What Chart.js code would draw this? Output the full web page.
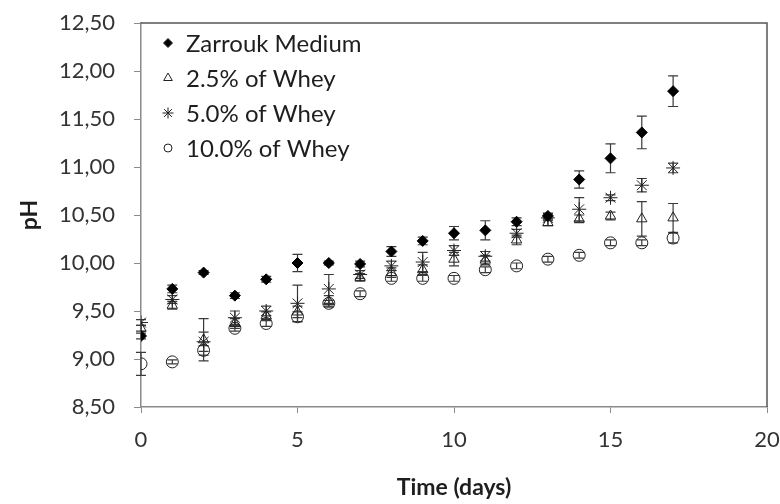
<!DOCTYPE html>
<html>
<head>
<meta charset="utf-8">
<script src="https://cdn.jsdelivr.net/npm/chart.js@4.4.0/dist/chart.umd.min.js"></script>
<style>
  body { margin: 0; background: #fff; }
</style>
</head>
<body>
<canvas id="myChart" width="780" height="504"></canvas>
<script>
var days = [0, 1, 2, 3, 4, 5, 6, 7, 8, 9, 10, 11, 12, 13, 14, 15, 16, 17];

var zarrouk    = [9.24, 9.73, 9.90, 9.66, 9.83, 10.00, 10.00, 9.99, 10.12, 10.23, 10.31, 10.34, 10.43, 10.49, 10.87, 11.09, 11.36, 11.79];
var zarroukErr = [0.03, 0.04, 0.02, 0.03, 0.03, 0.09, 0.02, 0.03, 0.05, 0.04, 0.07, 0.10, 0.04, 0.03, 0.09, 0.15, 0.17, 0.16];

var whey25    = [9.32, 9.56, 9.20, 9.37, 9.45, 9.49, 9.60, 9.85, 9.90, 9.93, 10.04, 10.03, 10.24, 10.42, 10.46, 10.49, 10.46, 10.47];
var whey25Err = [0.03, 0.04, 0.22, 0.05, 0.04, 0.06, 0.06, 0.04, 0.05, 0.05, 0.07, 0.05, 0.05, 0.03, 0.04, 0.04, 0.18, 0.15];

var whey50    = [9.38, 9.62, 9.18, 9.43, 9.50, 9.58, 9.73, 9.88, 9.97, 10.01, 10.13, 10.07, 10.31, 10.47, 10.56, 10.68, 10.81, 10.99];
var whey50Err = [0.03, 0.04, 0.10, 0.07, 0.05, 0.19, 0.15, 0.04, 0.05, 0.10, 0.05, 0.05, 0.04, 0.03, 0.12, 0.03, 0.07, 0.05];

var whey100    = [8.95, 8.97, 9.09, 9.32, 9.37, 9.44, 9.58, 9.68, 9.84, 9.84, 9.84, 9.93, 9.97, 10.04, 10.08, 10.21, 10.21, 10.26];
var whey100Err = [0.12, 0.02, 0.05, 0.03, 0.03, 0.05, 0.03, 0.03, 0.03, 0.03, 0.03, 0.03, 0.03, 0.03, 0.03, 0.03, 0.03, 0.05];

var seriesNames = ["Zarrouk Medium", "2.5% of Whey", "5.0% of Whey", "10.0% of Whey"];

function points(values) {
  return days.map(function (d, i) { return { x: d, y: values[i] }; });
}

// vertical error bars, drawn behind the markers
var errorBars = {
  id: 'errorBars',
  beforeDatasetsDraw: function (chart) {
    var ctx = chart.ctx, yScale = chart.scales.y;
    ctx.save();
    ctx.strokeStyle = '#3a3a3a';
    ctx.lineWidth = 1.2;
    chart.data.datasets.forEach(function (ds, di) {
      var meta = chart.getDatasetMeta(di);
      ds.errors.forEach(function (e, i) {
        var pt = meta.data[i];
        var v = ds.data[i].y;
        var top = yScale.getPixelForValue(v + e);
        var bot = yScale.getPixelForValue(v - e);
        ctx.beginPath();
        ctx.moveTo(pt.x, top); ctx.lineTo(pt.x, bot);
        ctx.moveTo(pt.x - 5, top); ctx.lineTo(pt.x + 5, top);
        ctx.moveTo(pt.x - 5, bot); ctx.lineTo(pt.x + 5, bot);
        ctx.stroke();
      });
    });
    ctx.restore();
  }
};

// top and right frame lines plus the legend inside the plot
var frameAndLegend = {
  id: 'frameAndLegend',
  afterDraw: function (chart) {
    var ctx = chart.ctx, a = chart.chartArea;
    ctx.save();
    ctx.strokeStyle = '#555';
    ctx.lineWidth = 1.5;
    ctx.beginPath();
    ctx.moveTo(a.left, a.top); ctx.lineTo(a.right, a.top); ctx.lineTo(a.right, a.bottom);
    ctx.stroke();

    ctx.font = '24px Lato';
    ctx.textBaseline = 'middle';
    chart.data.datasets.forEach(function (ds, i) {
      var y = a.top + 20 + i * 35;
      ctx.fillStyle = ds.pointBackgroundColor;
      ctx.strokeStyle = '#222';
      ctx.lineWidth = 1;
      Chart.helpers.drawPoint(ctx, { pointStyle: ds.pointStyle, radius: ds.legendRadius, rotation: 0, borderWidth: 1 }, a.left + 27, y);
      ctx.fillStyle = '#1e1e1e';
      ctx.fillText(ds.label, a.left + 45, y + 1);
    });
    ctx.restore();
  }
};

window.onload = function () {
  var ctx = document.getElementById("myChart").getContext("2d");
  var myChart = new Chart(ctx, {
    type: 'scatter',
    data: {
      datasets: [{
        label: seriesNames[0],
        data: points(zarrouk),
        errors: zarroukErr,
        pointStyle: 'rectRot',
        pointRadius: 5.5,
        legendRadius: 4.5,
        pointBackgroundColor: '#000',
        pointBorderColor: '#000',
        pointBorderWidth: 1
      }, {
        label: seriesNames[1],
        data: points(whey25),
        errors: whey25Err,
        pointStyle: 'triangle',
        pointRadius: 6,
        legendRadius: 5,
        pointBackgroundColor: 'rgba(0,0,0,0)',
        pointBorderColor: '#222',
        pointBorderWidth: 1
      }, {
        label: seriesNames[2],
        data: points(whey50),
        errors: whey50Err,
        pointStyle: 'star',
        pointRadius: 7,
        legendRadius: 5.5,
        pointBackgroundColor: 'rgba(0,0,0,0)',
        pointBorderColor: '#222',
        pointBorderWidth: 1
      }, {
        label: seriesNames[3],
        data: points(whey100),
        errors: whey100Err,
        pointStyle: 'circle',
        pointRadius: 6,
        legendRadius: 4,
        pointBackgroundColor: 'rgba(0,0,0,0)',
        pointBorderColor: '#222',
        pointBorderWidth: 1
      }]
    },
    options: {
      responsive: false,
      animation: false,
      layout: { padding: { top: 23, right: 13, left: 0, bottom: 0 } },
      plugins: {
        legend: { display: false },
        tooltip: { enabled: false }
      },
      scales: {
        x: {
          type: 'linear',
          min: 0,
          max: 20,
          afterFit: function (scale) {
            scale.height = 97;
            scale.paddingLeft = 0;
            scale.paddingRight = 0;
          },
          ticks: {
            stepSize: 5,
            padding: 14,
            color: '#333',
            font: { family: 'Lato', size: 22 }
          },
          grid: { drawOnChartArea: false, tickLength: 6, color: '#8a8a8a' },
          border: { color: '#8a8a8a', width: 1.5 },
          title: {
            display: true,
            text: 'Time (days)',
            color: '#1e1e1e',
            font: { family: 'Lato', size: 23, weight: 'bold' },
            padding: { top: 0, bottom: 3 }
          }
        },
        y: {
          min: 8.5,
          max: 12.5,
          afterFit: function (scale) {
            scale.width = 141;
            scale.paddingTop = 0;
            scale.paddingBottom = 0;
          },
          ticks: {
            stepSize: 0.5,
            padding: 19,
            color: '#333',
            font: { family: 'Lato', size: 22 },
            callback: function (v) { return v.toFixed(2).replace('.', ','); }
          },
          grid: { drawOnChartArea: false, tickLength: 7, color: '#8a8a8a' },
          border: { color: '#8a8a8a', width: 1.5 },
          title: {
            display: true,
            text: 'pH',
            color: '#1e1e1e',
            font: { family: 'Lato', size: 23, weight: 'bold' },
            padding: { top: 16, bottom: 0 }
          }
        }
      }
    },
    plugins: [errorBars, frameAndLegend]
  });
}
</script>
</body>
</html>
